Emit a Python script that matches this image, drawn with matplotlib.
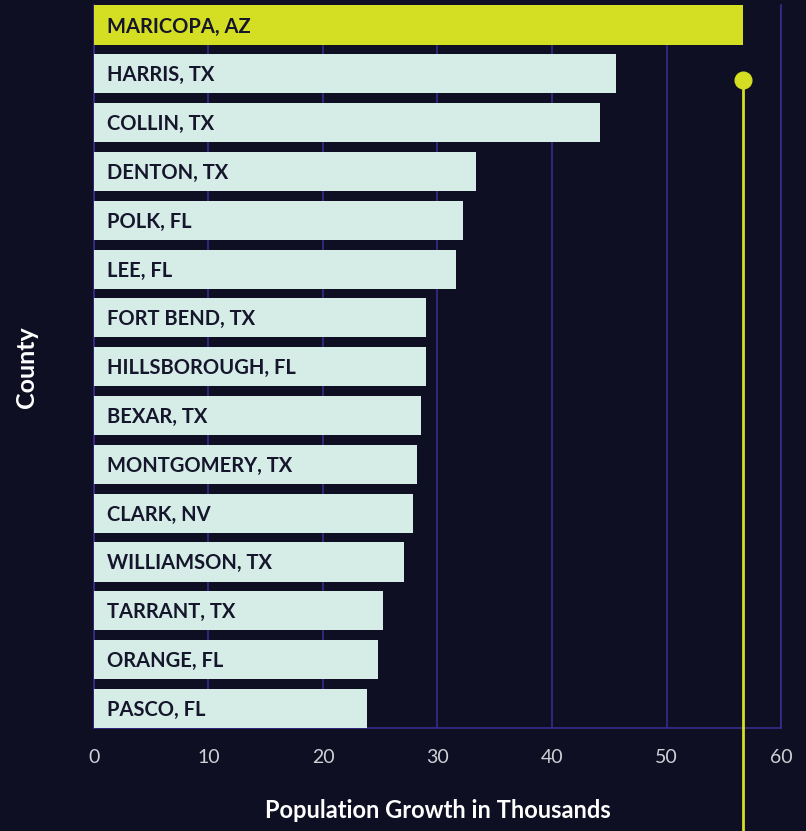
import matplotlib
matplotlib.use("Agg")
import matplotlib.pyplot as plt

counties = ["MARICOPA, AZ", "HARRIS, TX", "COLLIN, TX", "DENTON, TX", "POLK, FL",
            "LEE, FL", "FORT BEND, TX", "HILLSBOROUGH, FL", "BEXAR, TX",
            "MONTGOMERY, TX", "CLARK, NV", "WILLIAMSON, TX", "TARRANT, TX",
            "ORANGE, FL", "PASCO, FL"]
growth = [56.7, 45.6, 44.2, 33.4, 32.2, 31.6, 29.0, 29.0, 28.6, 28.2, 27.9,
          27.1, 25.2, 24.8, 23.8]
x_ticks = [0, 10, 20, 30, 40, 50, 60]
marker_value = 56.7

BG = "#0e0f22"
BAR = "#d5ece7"
HIGHLIGHT = "#d4de22"
GRID = "#3b2a8c"
LABEL = "#15162b"

plt.rcParams["font.family"] = ["Lato", "DejaVu Sans"]

fig = plt.figure(figsize=(8.06, 8.31), dpi=100, facecolor=BG)
ax = fig.add_axes([0.1166, 0.124, 0.8524, 0.8694], facecolor=BG)

ypos = list(range(len(counties)))
colors = [HIGHLIGHT] + [BAR] * (len(counties) - 1)
ax.barh(ypos, growth, height=0.8, color=colors, zorder=3)

for y, name in zip(ypos, counties):
    ax.text(1.1, y + 0.03, name, va="center", ha="left", fontsize=14.5,
            fontweight="bold", color=LABEL, zorder=4)

ax.set_ylim(len(counties) - 0.6, -0.4)
ax.set_xlim(0, 60)
ax.set_xticks(x_ticks)
ax.set_yticks([])
ax.grid(axis="x", color=GRID, linewidth=1.2, zorder=0)
ax.tick_params(axis="x", length=0, pad=15, labelsize=14, labelcolor="#d0d0d8")

for side in ["top"]:
    ax.spines[side].set_visible(False)
for side in ["left", "bottom", "right"]:
    ax.spines[side].set_color(GRID)
    ax.spines[side].set_linewidth(1.2)

# marker line with dot, running down past the axis
ax.plot([marker_value, marker_value], [1.12, 17.5], color=HIGHLIGHT,
        linewidth=2, clip_on=False, zorder=5)
ax.plot([marker_value], [1.12], "o", color=HIGHLIGHT, markersize=12,
        clip_on=False, zorder=6)

ax.set_xlabel("Population Growth in Thousands", fontsize=17, fontweight="bold",
              color="white", labelpad=24)
ax.set_ylabel("County", fontsize=18, fontweight="bold", color="white",
              labelpad=40)

fig.savefig("out.png", dpi=100, facecolor=BG)
